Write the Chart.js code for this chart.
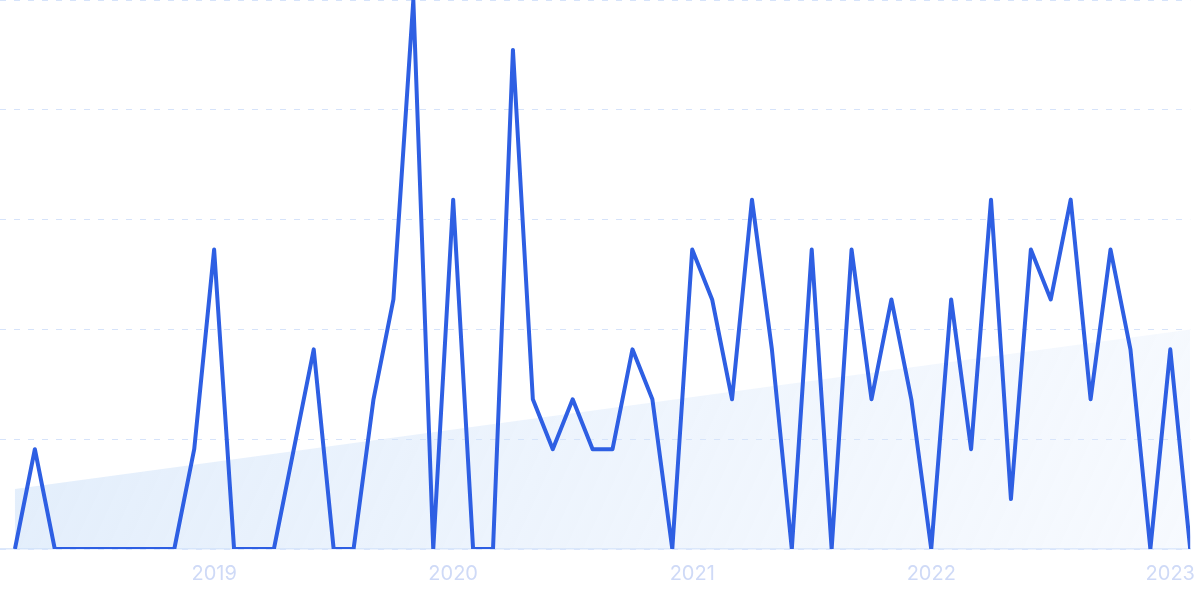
<!DOCTYPE html>
<html>
<head>
<meta charset="utf-8">
<script src="https://cdn.jsdelivr.net/npm/chart.js@4/dist/chart.umd.min.js"></script>
<style>
  html, body { margin: 0; padding: 0; background: #fff; }
  #wrap { width: 1200px; height: 599px; }
</style>
</head>
<body>
<div id="wrap"><canvas id="lineChart"></canvas></div>
<script>
// monthly counts, Mar 2018 .. Feb 2023
var months = [
    '2018-03','2018-04','2018-05','2018-06','2018-07','2018-08','2018-09','2018-10','2018-11','2018-12',
    '2019-01','2019-02','2019-03','2019-04','2019-05','2019-06','2019-07','2019-08','2019-09','2019-10','2019-11','2019-12',
    '2020-01','2020-02','2020-03','2020-04','2020-05','2020-06','2020-07','2020-08','2020-09','2020-10','2020-11','2020-12',
    '2021-01','2021-02','2021-03','2021-04','2021-05','2021-06','2021-07','2021-08','2021-09','2021-10','2021-11','2021-12',
    '2022-01','2022-02','2022-03','2022-04','2022-05','2022-06','2022-07','2022-08','2022-09','2022-10','2022-11','2022-12',
    '2023-01','2023-02'
];
var counts = [
    0, 2, 0, 0, 0, 0, 0, 0, 0, 2,
    6, 0, 0, 0, 2, 4, 0, 0, 3, 5, 11, 0,
    7, 0, 0, 10, 3, 2, 3, 2, 2, 4, 3, 0,
    6, 5, 3, 7, 4, 0, 6, 0, 6, 3, 5, 3,
    0, 5, 2, 7, 1, 6, 5, 7, 3, 6, 4, 0,
    4, 0
];
var yearLabels = ['2019', '2020', '2021', '2022', '2023'];
var trendStart = 1.2;
var trendEnd = 4.4;
var yMax = 11;

var yearIndex = yearLabels.map(function (y) { return months.indexOf(y + '-01'); });
var points = counts.map(function (v, i) { return { x: i, y: v }; });
var trend = [
    { x: 0, y: trendStart },
    { x: months.length - 1, y: trendEnd }
];

function trendFill(context) {
    var chart = context.chart;
    var area = chart.chartArea;
    if (!area) return 'rgba(205,225,248,0.5)';
    var g = chart.ctx.createLinearGradient(area.left, area.top, area.right, area.bottom);
    g.addColorStop(0, 'rgba(200,222,248,0.6)');
    g.addColorStop(1, 'rgba(225,236,252,0.28)');
    return g;
}

var ctx = document.getElementById('lineChart');
var lineChart = new Chart(ctx, {
    type: 'line',
    data: {
        datasets: [
        {
            data: points,
            borderColor: '#2E5FE3',
            borderWidth: 4,
            borderJoinStyle: 'round',
            pointRadius: 0,
            tension: 0,
            fill: false,
            order: 1
        },
        {
            data: trend,
            borderWidth: 0,
            borderColor: 'rgba(0,0,0,0)',
            backgroundColor: trendFill,
            pointRadius: 0,
            fill: 'origin',
            order: 2
        }]
    },
    options: {
        responsive: true,
        maintainAspectRatio: false,
        animation: false,
        layout: {
            padding: { left: 0, right: 2, top: 0, bottom: 8 }
        },
        plugins: {
            legend: { display: false },
            tooltip: { enabled: false }
        },
        scales: {
            x: {
                type: 'linear',
                min: -0.75,
                max: months.length - 1,
                afterBuildTicks: function (scale) {
                    scale.ticks = yearIndex.map(function (v) { return { value: v }; });
                },
                grid: { display: false },
                border: { display: true, color: '#DCE8FB', width: 1.5 },
                ticks: {
                    autoSkip: false,
                    maxRotation: 0,
                    padding: 5,
                    color: '#CFDAF7',
                    font: { family: 'Inter', size: 20 },
                    callback: function (value) {
                        var k = yearIndex.indexOf(value);
                        return k >= 0 ? yearLabels[k] : '';
                    }
                }
            },
            y: {
                min: 0,
                max: yMax,
                ticks: { display: false, count: 6 },
                grid: { color: '#D6E3FA', lineWidth: 1, drawTicks: false },
                border: { display: false, dash: [6, 8] }
            }
        }
    }
});
</script>
</body>
</html>
